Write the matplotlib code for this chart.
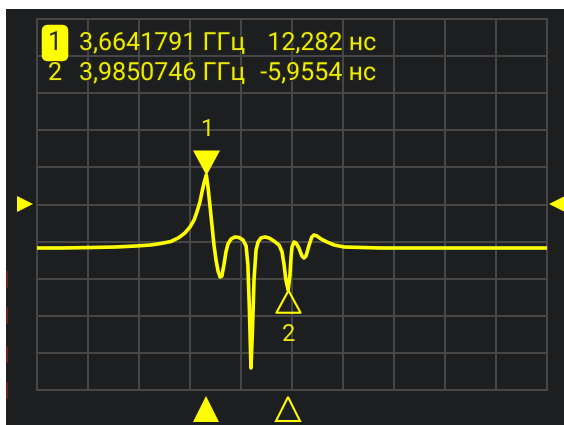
import matplotlib.pyplot as plt
import matplotlib.patheffects as pe
from matplotlib.patches import Rectangle
from matplotlib.lines import Line2D
from matplotlib.path import Path
import numpy as np

plt.rcParams['font.family'] = ['Roboto', 'DejaVu Sans']

# group delay trace (GHz, ns)
freq_ghz = [3.000, 3.094, 3.212, 3.310, 3.388, 3.447, 3.486, 3.525, 3.557, 3.580,
            3.600, 3.616, 3.627, 3.639, 3.647, 3.655, 3.664, 3.671, 3.678, 3.686,
            3.694, 3.702, 3.710, 3.718, 3.725, 3.733, 3.741, 3.749, 3.761, 3.776,
            3.792, 3.808, 3.820, 3.827, 3.833, 3.839, 3.845, 3.851, 3.859, 3.867,
            3.878, 3.894, 3.910, 3.929, 3.949, 3.961, 3.969, 3.976, 3.985, 3.992,
            3.996, 4.000, 4.008, 4.016, 4.027, 4.039, 4.047, 4.055, 4.067, 4.078,
            4.086, 4.098, 4.114, 4.137, 4.165, 4.204, 4.349, 4.584, 5.000]
delay_ns = [0.70, 0.70, 0.78, 0.86, 1.02, 1.18, 1.42, 1.73, 2.37, 3.08,
            4.03, 5.14, 6.41, 8.00, 9.58, 11.01, 12.28, 10.22, 7.52, 4.35,
            1.18, -1.20, -2.95, -3.90, -3.74, -1.99, 0.07, 1.34, 2.13, 2.45,
            2.37, 1.97, 1.02, -1.99, -9.13, -18.33, -12.30, -4.37, 0.38, 1.65,
            2.29, 2.45, 2.29, 1.81, 1.18, 0.07, -1.99, -4.37, -5.955, -3.58,
            -0.88, 0.86, 1.65, 1.50, 0.70, -0.57, -0.88, -0.57, 1.18, 2.45,
            2.76, 2.61, 2.13, 1.65, 1.18, 0.86, 0.70, 0.70, 0.70]

marker_freq = [3.6641791, 3.9850746]
marker_delay = [12.282, -5.9554]
ref_level = 7.68
f_start, f_stop = 3.0, 5.0
y_bottom, y_top = -21.82, 37.02

YELLOW = '#ffff00'
TEXT_Y = '#ecec00'
BG = '#1d1e20'
GRID = '#484848'

fig = plt.figure(figsize=(5.64, 4.25), dpi=100, facecolor='white')
fig.add_artist(Rectangle((6 / 564, 0), 1, 416 / 425, transform=fig.transFigure,
                         facecolor=BG, edgecolor='none', zorder=0))
# small red dashes on the left edge of the screen
for y0 in [272, 308, 347, 383]:
    fig.add_artist(Line2D([6.8 / 564] * 2, [(425 - y0 - 15) / 425, (425 - y0) / 425],
                          transform=fig.transFigure, color='#7a2418', lw=1.2))

ax = fig.add_axes([37 / 564, 35 / 425, 510 / 564, 371 / 425])
ax.set_facecolor(BG)
ax.set_xlim(f_start, f_stop)
ax.set_ylim(y_bottom, y_top)
ax.set_xticks(np.linspace(f_start, f_stop, 11))
ax.set_yticks(np.linspace(y_bottom, y_top, 11))
ax.tick_params(length=0, labelbottom=False, labelleft=False)
ax.grid(color=GRID, linewidth=1.4)
for s in ax.spines.values():
    s.set_color(GRID)
    s.set_linewidth(1.4)

ax.plot(freq_ghz, delay_ns, color=YELLOW, lw=2.6, solid_joinstyle='round', zorder=3)

# marker symbols on the trace
codes = [Path.MOVETO, Path.LINETO, Path.LINETO, Path.CLOSEPOLY]
down_tri = Path([(-13.5, 25), (13.5, 25), (0, 0), (0, 0)], codes)
up_tri = Path([(0, 0), (12.5, -23), (-12.5, -23), (0, 0)], codes)
ax.plot(marker_freq[0], marker_delay[0], marker=down_tri, ms=36, color=YELLOW,
        mew=0, zorder=4, clip_on=False)
ax.plot(marker_freq[1], marker_delay[1], marker=up_tri, ms=32, mfc='none',
        mec=YELLOW, mew=1.5, zorder=4, clip_on=False)
ax.annotate('1', (marker_freq[0], marker_delay[0]), xytext=(0, 33), textcoords='offset points',
            ha='center', va='center', color=TEXT_Y, fontsize=17)
ax.annotate('2', (marker_freq[1], marker_delay[1]), xytext=(0, -32), textcoords='offset points',
            ha='center', va='center', color=TEXT_Y, fontsize=17)

# markers below the grid
xt = ax.get_xaxis_transform()
ax.plot(marker_freq[0], -0.05, marker='^', ms=19, color=YELLOW, mew=0,
        transform=xt, clip_on=False)
ax.plot(marker_freq[1], -0.05, marker='^', ms=17.5, mfc='none', mec=YELLOW, mew=1.5,
        transform=xt, clip_on=False)

# reference level arrows
yt = ax.get_yaxis_transform()
ax.plot(-0.0227, ref_level, marker='>', ms=11.5, color=YELLOW, mew=0, transform=yt, clip_on=False)
ax.plot(1.0196, ref_level, marker='<', ms=11.5, color=YELLOW, mew=0, transform=yt, clip_on=False)

# marker readout table
stroke = [pe.withStroke(linewidth=1.5, foreground='#2a2a12')]
rows_y = [0.9164, 0.8356]
for i in range(2):
    fstr = f"{marker_freq[i]:.7f}".replace('.', ',') + ' ГГц'
    dstr = f"{marker_delay[i]:.5g}".replace('.', ',') + ' нс'
    if i == 0:
        ax.text(0.0353, rows_y[i], '1', transform=ax.transAxes, ha='center', va='baseline',
                color='#2a2a10', fontsize=18, zorder=6,
                bbox=dict(boxstyle='round,pad=0.25,rounding_size=0.25', fc=YELLOW, ec='none'))
    else:
        ax.text(0.0353, rows_y[i], str(i + 1), transform=ax.transAxes, ha='center',
                va='baseline', color=TEXT_Y, fontsize=18, path_effects=stroke, zorder=6)
    ax.text(0.0824, rows_y[i], fstr, transform=ax.transAxes, ha='left', va='baseline',
            color=TEXT_Y, fontsize=18, path_effects=stroke, zorder=6)
    ax.text(0.6647, rows_y[i], dstr, transform=ax.transAxes, ha='right', va='baseline',
            color=TEXT_Y, fontsize=18, path_effects=stroke, zorder=6)

fig.savefig('out.png', dpi=100, facecolor='white')
